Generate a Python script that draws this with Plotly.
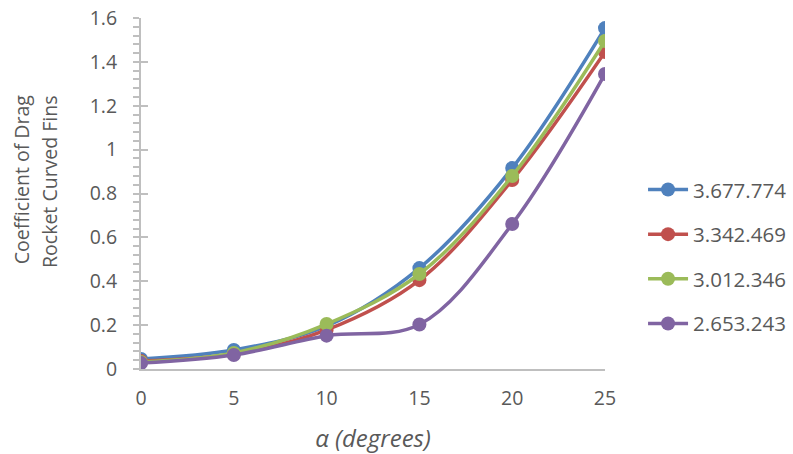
import plotly.graph_objects as go

# Angle of attack (degrees)
alpha = [0, 5, 10, 15, 20, 25]

# Drag coefficient for each series
series_names = ["3.677.774", "3.342.469", "3.012.346", "2.653.243"]
cd_3677774 = [0.046, 0.087, 0.196, 0.460, 0.916, 1.554]
cd_3342469 = [0.036, 0.068, 0.178, 0.405, 0.861, 1.445]
cd_3012346 = [0.032, 0.073, 0.205, 0.433, 0.880, 1.495]
cd_2653243 = [0.027, 0.064, 0.152, 0.203, 0.661, 1.345]

# Y-axis title, one entry per line
y_title_lines = ["Coefficient of Drag", "Rocket Curved Fins"]

colors = ["#4f81bd", "#c0504d", "#9bbb59", "#8064a2"]
values = [cd_3677774, cd_3342469, cd_3012346, cd_2653243]

text_color = "#595959"
font_family = "Open Sans, Noto Sans, sans-serif"

fig = go.Figure()
for i, (name, ys, col) in enumerate(zip(series_names, values, colors)):
    fig.add_trace(go.Scatter(
        x=alpha, y=ys, name=name, mode="lines+markers",
        line=dict(color=col, width=3.5, shape="spline", smoothing=1.0),
        marker=dict(color=col, size=14),
        legendgroup=f"g{i}",
    ))

# invisible trace on an overlaid axis to draw the inner half of the major ticks
fig.add_trace(go.Scatter(x=[0], y=[0], yaxis="y2", showlegend=False,
                         hoverinfo="skip", mode="markers",
                         marker=dict(opacity=0)))

# rotated y-axis title, drawn line by line for wider line spacing
for line_text, xpos, ypos in zip(y_title_lines, [-0.2586, -0.1961], [0.538, 0.533]):
    fig.add_annotation(
        text=line_text, xref="paper", yref="paper", x=xpos, y=ypos,
        xanchor="center", yanchor="middle", textangle=-90, showarrow=False,
        font=dict(size=19.5, color=text_color, family=font_family),
    )

fig.update_layout(
    width=793, height=454,
    margin=dict(l=141, r=188, t=18, b=85, autoexpand=False),
    paper_bgcolor="white", plot_bgcolor="white",
    font=dict(family=font_family, color=text_color, size=19),
    showlegend=True,
    legend=dict(x=1.082, xanchor="left", y=0.32, yanchor="middle",
                font=dict(size=20.5, color=text_color),
                tracegroupgap=15, itemwidth=40),
    xaxis=dict(
        range=[0, 25], tickvals=alpha, ticktext=[str(a) for a in alpha],
        showgrid=False, zeroline=False, showline=True, automargin=False,
        linecolor="#bfbfbf", linewidth=2, ticks="", ticklen=0,
        tickfont=dict(size=19.5, color=text_color), ticklabelstandoff=11,
        title=dict(text="α (degrees)", standoff=20,
                   font=dict(size=24, color=text_color, style="italic")),
    ),
    yaxis=dict(
        range=[0, 1.6], dtick=0.2, tickformat="~g",
        showgrid=False, zeroline=False, showline=True, automargin=False,
        linecolor="#bfbfbf", linewidth=2,
        ticks="outside", ticklen=6, tickwidth=1.5, tickcolor="#bfbfbf",
        minor=dict(dtick=0.04, ticks="outside", ticklen=6,
                   tickwidth=1.5, tickcolor="#bfbfbf"),
        tickfont=dict(size=19.5, color=text_color), ticklabelstandoff=12,
    ),
    yaxis2=dict(
        overlaying="y", matches="y", side="left", anchor="x",
        showgrid=False, zeroline=False, showline=False, automargin=False,
        showticklabels=False, ticks="inside", ticklen=7,
        tickwidth=1.5, tickcolor="#bfbfbf", dtick=0.2,
    ),
)

fig.write_html("out.html")
